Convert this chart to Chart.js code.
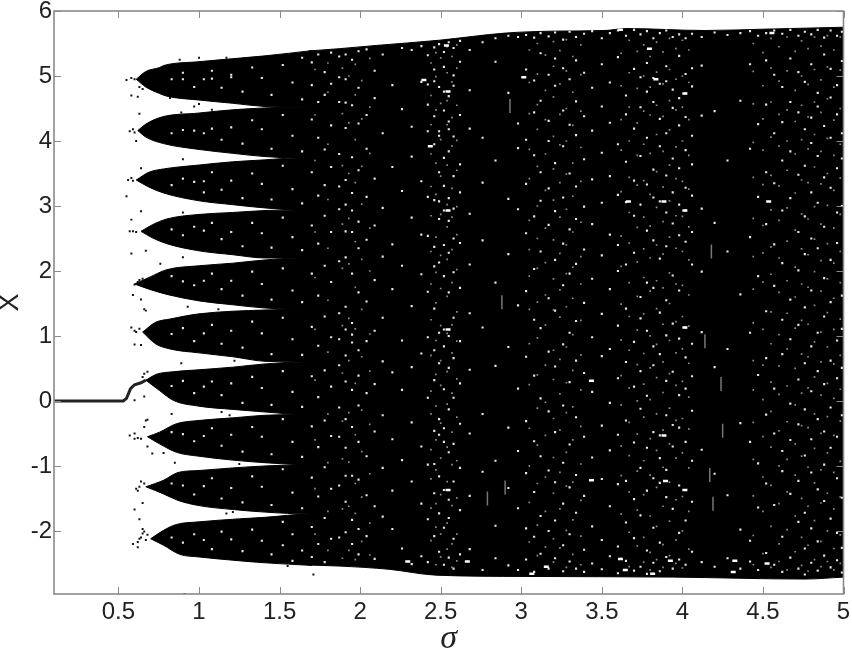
<!DOCTYPE html>
<html>
<head>
<meta charset="utf-8">
<title>Bifurcation diagram</title>
<script src="https://cdn.jsdelivr.net/npm/chart.js@4"></script>
<style>
  html, body { margin: 0; padding: 0; background: #fff; }
  canvas { display: block; filter: blur(0.45px); }
</style>
</head>
<body>
<canvas id="bif" width="852" height="651"></canvas>
<script>
const xTicks = [0.5, 1, 1.5, 2, 2.5, 3, 3.5, 4, 4.5, 5];
const yTicks = [-2, -1, 0, 1, 2, 3, 4, 5, 6];

// [sigma, X] outline of each band
const lobe1Up = [[0.61,4.95],[0.67,5.07],[0.755,5.13],[0.78,5.16],[1.0,5.22],[1.41,5.31],[1.7,5.39]];
const lobe1Lo = [[0.61,4.95],[0.67,4.83],[0.755,4.73],[0.8,4.69],[1.0,4.63],[1.21,4.58],[1.41,4.53],[1.6,4.52],[1.7,4.52]];
const lobe2Up = [[0.62,4.16],[0.67,4.26],[0.77,4.37],[1.0,4.43],[1.21,4.48],[1.6,4.52],[1.7,4.52]];
const lobe2Lo = [[0.62,4.16],[0.67,4.06],[0.78,3.96],[1.0,3.87],[1.21,3.81],[1.41,3.76],[1.61,3.74],[1.7,3.74]];
const lobe3Up = [[0.61,3.40],[0.69,3.52],[0.78,3.57],[1.0,3.63],[1.21,3.68],[1.41,3.71],[1.61,3.74],[1.7,3.74]];
const lobe3Lo = [[0.61,3.40],[0.69,3.29],[0.78,3.20],[1.0,3.08],[1.21,3.02],[1.41,2.97],[1.62,2.94],[1.7,2.94]];
const lobe4Up = [[0.64,2.61],[0.71,2.71],[0.8,2.80],[1.0,2.87],[1.21,2.90],[1.41,2.93],[1.62,2.94],[1.7,2.94]];
const lobe4Lo = [[0.64,2.61],[0.71,2.51],[0.8,2.42],[1.0,2.31],[1.21,2.25],[1.41,2.20],[1.63,2.20],[1.7,2.20]];
const lobe5Up = [[0.6,1.80],[0.69,1.90],[0.8,2.02],[1.0,2.08],[1.21,2.12],[1.41,2.17],[1.63,2.20],[1.7,2.20]];
const lobe5Lo = [[0.6,1.80],[0.69,1.72],[0.8,1.64],[1.0,1.54],[1.21,1.48],[1.41,1.43],[1.64,1.41],[1.7,1.41]];
const lobe6Up = [[0.65,1.06],[0.73,1.21],[0.82,1.26],[1.0,1.34],[1.41,1.40],[1.64,1.41],[1.7,1.41]];
const lobe6Lo = [[0.65,1.06],[0.73,0.88],[0.82,0.80],[1.0,0.74],[1.21,0.68],[1.41,0.61],[1.67,0.60],[1.7,0.60]];
const lobe7Up = [[0.67,0.32],[0.735,0.41],[0.84,0.45],[1.0,0.48],[1.21,0.52],[1.41,0.57],[1.67,0.60],[1.7,0.60]];
const lobe7Lo = [[0.67,0.32],[0.755,0.16],[0.84,0.01],[1.0,-0.08],[1.21,-0.13],[1.41,-0.17],[1.67,-0.21],[1.7,-0.21]];
const lobe8Up = [[0.68,-0.55],[0.755,-0.48],[0.86,-0.35],[1.0,-0.30],[1.21,-0.26],[1.41,-0.22],[1.67,-0.21],[1.7,-0.21]];
const lobe8Lo = [[0.68,-0.55],[0.755,-0.66],[0.86,-0.79],[1.0,-0.85],[1.21,-0.91],[1.41,-0.95],[1.68,-0.98],[1.7,-0.98]];
const lobe9Up = [[0.67,-1.32],[0.78,-1.22],[0.87,-1.10],[1.0,-1.07],[1.21,-1.03],[1.41,-1.00],[1.68,-0.98],[1.7,-0.98]];
const lobe9Lo = [[0.67,-1.32],[0.78,-1.43],[0.87,-1.53],[1.0,-1.61],[1.21,-1.67],[1.41,-1.71],[1.69,-1.74],[1.7,-1.74]];
const lobe10Up = [[0.7,-2.12],[0.78,-1.99],[0.86,-1.90],[1.0,-1.86],[1.21,-1.82],[1.41,-1.79],[1.69,-1.74],[1.7,-1.74]];
const lobe10Lo = [[0.7,-2.12],[0.78,-2.22],[0.88,-2.36],[1.0,-2.40],[1.21,-2.45],[1.41,-2.49],[1.7,-2.53]];
const bodyUp = [[1.68,5.385],[1.87,5.42],[2.1,5.47],[2.49,5.55],[2.9,5.66],[3.2,5.69],[3.52,5.70],[3.65,5.73],[4.14,5.70],[4.5,5.72],[5,5.75]];
const bodyLo = [[1.68,-2.525],[1.87,-2.54],[2.18,-2.59],[2.47,-2.68],[3.03,-2.70],[3.94,-2.71],[4.76,-2.74],[5,-2.71]];

// the fixed point before the first bifurcation
const stem = [[0.1,0],[0.53,0],[0.55,0.04],[0.575,0.19],[0.6,0.25],[0.64,0.28],[0.67,0.32]];

const strayDots = [[0.55,4.94],[0.58,4.97],[0.60,4.95],[0.65,4.80],[0.63,4.83],[0.58,4.70],[0.62,4.68],[0.82,4.66],[0.97,4.53],[1.0,4.57],[0.88,5.25],[1.0,5.28],[1.17,5.28],[0.89,4.44],[0.63,4.42],[1.08,4.48],[0.57,4.15],[0.60,4.13],[0.59,4.18],[0.61,4.0],[0.90,3.72],[0.64,3.58],[0.55,3.15],[0.56,3.40],[0.59,3.39],[0.58,3.43],[0.64,2.92],[0.58,2.79],[0.90,2.90],[0.57,2.61],[0.61,2.60],[0.59,2.61],[0.58,2.27],[0.67,2.31],[0.90,2.21],[0.76,2.11],[0.62,1.83],[0.65,1.88],[0.60,1.79],[0.63,1.86],[0.59,1.63],[0.64,1.56],[0.67,1.39],[0.66,1.41],[0.93,1.45],[1.12,1.41],[0.58,1.13],[0.63,1.11],[0.60,1.08],[0.61,1.06],[0.60,0.87],[0.64,0.86],[0.89,0.58],[1.22,0.62],[0.68,0.45],[0.66,0.42],[0.65,0.37],[0.60,0.01],[0.66,0.07],[0.83,-0.20],[1.14,-0.17],[1.19,-0.22],[0.67,-0.30],[0.68,-0.29],[0.66,-0.40],[0.57,-0.53],[0.60,-0.58],[0.62,-0.57],[0.64,-0.58],[0.60,-0.50],[0.68,-0.70],[0.71,-0.81],[0.78,-0.80],[0.85,-0.95],[1.25,-0.97],[0.63,-1.32],[0.61,-1.35],[0.66,-1.27],[0.64,-1.24],[0.62,-1.38],[0.65,-1.57],[0.60,-1.67],[0.63,-1.82],[1.17,-1.73],[1.21,-1.71],[0.65,-2.04],[0.62,-2.17],[0.59,-2.20],[0.67,-2.14],[0.65,-1.97],[0.62,-2.25],[0.64,-2.10],[0.66,-2.01],[0.63,-2.12],[0.68,-2.06],[1.55,-2.54],[1.71,-2.67],[0.91,-2.97]];

// white gaps, one sigma per list of X values
const speckSigma = [0.83,0.9,0.97,1.03,1.08,1.14,1.2,1.27,1.33,1.39,1.45,1.52,1.58,1.64,1.7,1.74,1.78,1.82,1.87,1.91,1.95,1.99,2.04,2.09,2.14,2.2,2.26,2.32,2.38,2.42,2.46,2.49,2.52,2.55,2.58,2.62,2.68,2.76,2.84,2.92,2.98,3.03,3.08,3.12,3.17,3.21,3.26,3.3,3.34,3.39,3.44,3.5,3.55,3.6,3.65,3.7,3.74,3.78,3.82,3.86,3.9,3.94,3.98,4.02,4.06,4.12,4.2,4.28,4.36,4.42,4.47,4.52,4.57,4.62,4.67,4.72,4.76,4.8,4.84,4.88,4.92,4.96,4.99];
const speckX = [
  [4.95,4.12,3.32,2.64,1.92,1.03,0.23,-0.48,-1.27,-2.10],
  [5.05,4.95,4.17,3.42,2.55,1.84,1.12,0.31,-0.51,-1.30,-2.18],
  [4.83,4.16,3.37,2.68,1.78,0.92,0.12,-0.62,-1.44,-2.05],
  [4.95,4.12,3.38,3.21,2.62,1.85,1.04,0.22,-0.54,-1.31,-2.14],
  [5.08,4.96,4.19,3.52,2.74,1.96,1.17,0.30,-0.42,-1.19,-2.28],
  [4.82,4.02,3.25,2.49,1.72,0.88,0.09,-0.69,-1.50,-2.01],
  [5.02,4.98,4.21,3.39,2.60,1.85,1.08,0.27,-0.52,-1.34,-2.13],
  [4.76,3.96,3.12,2.38,1.62,0.82,-0.03,-0.78,-1.56,-2.31],
  [5.13,4.32,3.50,2.74,1.99,1.22,0.37,-0.40,-1.16,-1.98],
  [4.97,4.18,3.34,2.58,1.80,1.04,0.20,-0.55,-1.32,-2.15],
  [4.71,3.88,3.10,2.36,1.56,0.72,-0.06,-0.82,-1.60,-2.36],
  [5.17,4.40,3.62,2.82,2.04,1.28,0.46,-0.28,-1.05,-1.86,-2.22],
  [4.90,4.08,3.26,2.52,1.70,0.95,0.14,-0.63,-1.41,-2.05,-2.46],
  [5.28,4.64,3.84,3.04,2.32,1.52,0.71,-0.09,-0.86,-1.65,-2.30],
  [5.21,4.86,4.33,3.52,2.70,1.96,1.14,0.38,-0.39,-1.18,-1.94,-2.40],
  [5.33,4.60,4.05,3.16,2.42,1.62,0.85,0.06,-0.71,-1.47,-2.20],
  [5.06,4.71,3.87,3.32,2.85,2.08,1.30,0.47,-0.30,-1.02,-1.80,-2.48],
  [5.36,4.88,4.24,3.60,2.60,1.83,0.98,0.22,-0.54,-1.35,-2.12],
  [5.30,4.98,4.60,3.80,3.30,2.95,2.15,1.35,0.95,0.55,-0.10,-0.55,-1.30,-2.10],
  [5.33,4.95,4.59,4.20,3.40,3.02,2.61,2.21,1.45,1.10,0.70,0.30,-0.28,-0.72,-1.15,-1.55,-2.02],
  [5.25,4.55,3.75,3.20,2.93,2.60,1.96,1.20,0.90,1.02,0.17,-0.40,-1.15,-1.83,-2.20],
  [5.38,4.82,4.27,3.55,2.76,2.35,1.67,0.78,0.39,-0.07,-0.63,-1.21,-1.97,-2.36],
  [5.41,4.40,3.88,3.14,2.48,1.53,0.92,0.12,-0.85,-1.45,-2.08],
  [5.08,4.66,3.42,2.70,1.86,1.08,0.26,-0.47,-1.62,-2.43],
  [5.33,4.12,2.97,2.22,1.28,0.61,-0.22,-1.03,-1.78],
  [4.86,3.60,2.41,1.72,0.44,-0.59,-1.38,-1.97],
  [5.43,4.49,3.23,2.08,0.93,0.17,-0.91,-2.27],
  [5.40,4.22,3.76,2.82,1.46,0.52,-0.33,-1.24,-2.51],
  [5.46,4.91,3.38,2.56,1.95,0.73,-0.70,-1.58,-2.39],
  [5.32,4.87,4.56,4.15,3.14,2.54,1.68,0.98,0.05,-0.98,-1.82,-2.48],
  [5.44,5.10,4.92,4.38,3.95,3.09,2.37,2.07,1.42,0.78,0.32,-0.46,-0.97,-1.42,-2.08],
  [5.49,4.83,4.15,4.08,3.52,3.07,2.80,2.13,1.05,0.58,-0.28,-0.52,-1.16,-1.73,-2.32],
  [5.37,5.14,4.76,4.47,3.74,3.31,2.93,2.40,1.92,1.10,0.84,0.18,-0.42,-0.63,-1.37,-1.95,-2.52],
  [5.52,4.69,4.30,4.18,3.84,3.12,2.77,2.28,1.67,1.00,0.51,-0.13,-0.79,-1.52,-1.80,-2.41],
  [5.43,5.01,4.85,4.07,3.46,2.96,2.50,1.98,1.28,0.66,0.05,-0.66,-1.24,-2.12,-2.58],
  [5.54,5.22,4.40,3.64,3.21,2.43,1.74,0.92,0.27,-0.35,-1.03,-1.68,-2.36],
  [5.40,4.78,4.19,2.88,2.10,1.35,0.48,-0.50,-1.46,-2.28],
  [5.52,4.05,3.36,2.47,1.13,-0.20,-1.09,-2.60],
  [5.58,5.22,3.70,1.82,0.54,-0.92,-1.92,-2.42],
  [5.62,4.74,3.11,2.26,0.83,-0.41,-1.34,-2.53],
  [5.60,4.27,3.89,2.95,1.47,0.19,-0.77,-1.65,-2.60],
  [5.63,5.10,4.02,3.34,2.58,1.69,0.68,-0.31,-1.11,-1.96,-2.44],
  [5.59,4.93,4.44,3.78,2.84,2.03,1.25,0.39,-0.62,-1.40,-2.09,-2.63],
  [5.66,5.35,4.62,3.52,3.08,2.30,1.12,0.04,-0.85,-1.77,-2.35],
  [5.61,5.02,4.31,4.00,3.27,2.71,1.58,0.76,-0.16,-1.07,-2.00,-2.58],
  [5.67,5.27,4.85,3.66,2.92,2.17,1.39,0.53,-0.48,-1.25,-1.84,-2.42],
  [5.56,5.12,4.47,3.92,3.13,2.42,1.78,0.87,-0.07,-0.95,-1.58,-2.22,-2.62],
  [5.68,4.95,4.25,3.50,2.64,1.96,1.05,0.29,-0.67,-1.33,-2.05,-2.47],
  [5.60,5.24,4.61,4.09,3.30,2.80,2.11,1.23,0.62,-0.25,-1.14,-1.72,-2.58],
  [5.65,5.05,4.38,3.72,2.99,2.33,1.51,0.43,-0.55,-1.46,-2.29,-2.63],
  [5.69,4.82,4.16,3.41,2.72,1.88,0.98,0.14,-0.87,-1.93,-2.50],
  [5.58,5.18,4.53,3.82,3.05,2.24,1.34,0.69,-0.38,-1.20,-2.14,-2.59],
  [5.66,4.90,4.28,3.46,2.56,1.72,0.80,-0.03,-0.76,-1.62,-2.39],
  [5.70,5.29,3.95,3.17,2.40,2.00,1.16,0.35,-0.52,-1.28,-2.24,-2.65],
  [5.62,4.70,4.41,3.68,3.06,2.10,1.42,0.60,-0.30,-1.23,-1.87,-2.46],
  [5.71,5.11,4.19,3.39,2.85,2.28,0.91,0.22,-0.64,-1.51,-2.11,-2.61],
  [5.64,4.98,4.52,3.77,3.02,1.60,1.27,0.46,-0.12,-1.03,-1.76,-2.55],
  [5.69,5.20,4.76,4.05,3.33,2.62,1.82,1.08,0.08,-0.72,-1.38,-2.30,-2.66],
  [5.58,4.97,4.60,3.56,3.13,2.47,1.74,0.84,0.55,-0.48,-1.19,-1.95,-2.49],
  [5.66,4.88,4.34,3.92,3.07,2.19,1.36,0.72,-0.53,-0.88,-1.26,-2.18,-2.62],
  [5.70,5.15,4.92,4.12,3.47,2.90,2.38,1.55,1.01,0.31,-0.22,-1.06,-1.48,-2.40],
  [5.60,4.79,4.51,3.73,3.21,2.73,1.93,1.19,0.45,-0.37,-0.70,-1.66,-2.58],
  [5.64,5.31,4.66,4.24,3.58,3.02,2.55,1.70,0.96,0.09,-0.41,-1.30,-2.03,-2.44],
  [5.58,5.03,4.73,4.37,3.86,3.28,2.93,2.45,1.13,0.67,0.19,-0.63,-1.37,-1.84,-2.52],
  [5.65,5.12,4.84,4.08,3.64,3.16,2.60,2.10,0.88,0.38,-0.15,-0.92,-1.55,-2.32],
  [5.60,5.16,4.39,2.96,1.99,1.06,-0.75,-2.48],
  [5.67,4.46,2.74,0.52,-1.12,-2.55],
  [5.63,3.70,2.30,0.80,-1.45,-2.42],
  [5.66,4.62,1.64,-0.34,-1.98,-2.58],
  [5.69,5.18,3.88,2.52,1.05,-0.63,-2.15,-2.47],
  [5.62,4.26,3.14,1.92,0.40,-0.96,-1.64,-2.60],
  [5.66,5.24,4.56,3.52,2.72,1.38,0.66,-0.21,-1.27,-2.34],
  [5.70,5.02,4.12,3.35,2.41,1.77,0.19,-0.50,-1.60,-2.52],
  [5.65,4.83,4.29,3.70,2.93,2.12,1.25,0.72,-0.77,-1.08,-2.09,-2.63],
  [5.71,5.27,4.60,3.84,3.12,1.56,0.95,-0.04,-0.60,-1.43,-2.41],
  [5.62,5.06,4.44,3.48,2.60,2.01,1.17,0.33,-0.36,-1.23,-1.86,-2.58],
  [5.68,4.91,4.18,3.62,2.84,2.26,1.44,0.58,-0.13,-0.84,-1.72,-2.27,-2.67],
  [5.64,5.18,4.36,3.97,3.21,2.50,1.70,0.84,0.15,-0.59,-1.10,-1.96,-2.49],
  [5.71,4.74,4.53,3.77,3.05,2.35,1.05,0.46,-0.28,-1.36,-2.16,-2.61],
  [5.59,5.33,4.23,3.44,2.68,1.89,1.30,0.26,-0.47,-0.98,-1.54,-2.38],
  [5.70,5.11,4.67,4.05,3.28,2.17,1.52,0.62,-0.10,-0.72,-1.81,-2.56],
  [5.62,4.86,4.41,3.58,2.90,2.43,0.93,0.35,-0.55,-1.19,-2.03,-2.45],
  [5.68,5.23,4.12,3.73,3.00,1.62,1.11,0.51,-0.22,-1.49,-2.26,-2.64],
  [5.72,4.97,4.58,3.87,2.77,2.09,1.37,0.07,-0.83,-1.33,-1.90,-2.52]
];

// dimmer dots in the busy columns
const faintSigma = [1.72,1.8,1.89,1.93,1.97,2.01,2.06,2.44,2.47,2.5,2.54,2.57,2.6,3.05,3.1,3.15,3.2,3.24,3.28,3.32,3.37,3.62,3.67,3.72,3.76,3.8,3.84,3.88,3.92,3.96,4.0,4.04,4.44,4.5,4.55,4.6,4.65,4.7,4.74,4.78,4.82,4.86,4.9,4.94,4.98];
const faintX = [
  [5.1,4.4,3.7,2.6,1.9,1.1,0.32,-0.6,-1.35,-2.05],
  [5.2,4.75,3.95,3.1,2.35,1.55,0.75,-0.2,-0.95,-1.7,-2.3],
  [5.12,4.42,3.62,2.72,2.04,1.16,0.43,-0.31,-0.89,-1.66,-2.42],
  [5.0,4.28,3.5,2.81,2.11,1.27,0.62,-0.18,-0.94,-1.62,-2.3],
  [5.18,4.71,4.02,3.36,2.45,1.75,1.11,0.27,-0.52,-1.27,-1.73,-2.44],
  [4.93,4.34,3.61,3.03,2.18,1.41,0.68,-0.14,-0.78,-1.48,-2.16],
  [5.27,4.52,3.81,2.66,2.0,1.03,0.46,-0.36,-1.12,-1.88,-2.37],
  [5.2,4.7,4.25,3.8,3.3,2.85,2.3,1.8,1.25,0.7,0.15,-0.2,-0.75,-1.2,-1.65,-2.15],
  [5.36,4.99,4.48,3.66,3.18,2.52,1.98,1.51,0.93,0.41,-0.08,-0.6,-1.06,-1.58,-1.94,-2.52],
  [5.28,4.58,4.02,3.46,2.87,2.24,1.73,1.16,0.62,0.24,-0.34,-0.88,-1.44,-2.05,-2.4],
  [5.45,5.05,4.62,4.25,3.63,3.02,2.68,2.18,1.61,1.04,0.45,-0.05,-0.71,-1.24,-1.88,-2.28],
  [5.3,4.91,4.36,3.92,3.27,2.83,2.33,1.82,1.17,0.74,0.12,-0.48,-0.98,-1.61,-2.2,-2.56],
  [5.48,5.12,4.55,4.01,3.55,2.99,2.56,2.02,1.37,0.92,0.34,-0.25,-0.92,-1.49,-2.05,-2.46],
  [5.4,4.9,4.42,3.87,3.42,2.78,2.33,1.92,1.41,0.88,0.25,-0.42,-1.0,-1.56,-2.17],
  [5.5,5.03,4.56,4.18,3.61,3.0,2.5,2.04,1.52,0.97,0.4,-0.11,-0.68,-1.27,-1.91,-2.38],
  [5.32,4.78,4.33,3.8,3.24,2.66,2.13,1.63,1.17,0.55,-0.02,-0.53,-1.17,-1.7,-2.25,-2.55],
  [5.53,5.15,4.68,4.07,3.57,3.09,2.48,1.88,1.4,0.78,0.33,-0.27,-0.87,-1.42,-2.12,-2.48],
  [5.39,4.88,4.41,3.94,3.36,2.83,2.27,1.71,1.29,0.64,0.11,-0.45,-1.1,-1.66,-2.26],
  [5.56,5.08,4.5,4.0,3.49,2.95,2.4,1.96,1.45,0.83,0.28,-0.18,-0.79,-1.31,-1.99,-2.56],
  [5.3,4.75,4.24,3.66,3.15,2.6,2.06,1.58,1.02,0.47,-0.09,-0.6,-1.25,-1.83,-2.36],
  [5.48,5.02,4.46,3.9,3.38,2.75,2.22,1.8,1.24,0.71,0.17,-0.39,-0.97,-1.53,-2.08,-2.52],
  [5.35,4.85,4.33,3.86,3.22,2.54,2.07,1.49,0.94,0.39,-0.06,-0.69,-1.15,-1.74,-2.42],
  [5.55,5.05,4.52,4.0,3.44,2.9,2.43,1.82,1.3,0.78,0.2,-0.33,-0.84,-1.4,-2.02,-2.55],
  [5.38,4.81,4.28,3.78,3.32,2.67,2.14,1.61,1.09,0.56,0.0,-0.51,-1.08,-1.68,-2.23],
  [5.48,5.0,4.46,3.95,3.39,2.83,2.34,1.9,1.34,0.73,0.26,-0.25,-0.92,-1.44,-2.1,-2.48],
  [5.3,4.83,4.4,3.81,3.18,2.69,2.2,1.69,1.0,0.51,0.02,-0.58,-1.14,-1.77,-2.33,-2.6],
  [5.52,5.06,4.55,4.1,3.53,2.98,2.4,1.85,1.42,0.87,0.36,-0.2,-0.76,-1.33,-1.93,-2.44],
  [5.37,4.88,4.38,3.84,3.29,2.76,2.26,1.74,1.18,0.6,0.13,-0.45,-1.02,-1.62,-2.21,-2.56],
  [5.58,5.1,4.62,4.17,3.63,3.08,2.52,1.97,1.5,0.93,0.42,-0.11,-0.66,-1.25,-1.85,-2.38],
  [5.42,4.95,4.48,3.91,3.42,2.85,2.35,1.8,1.22,0.74,0.24,-0.3,-0.88,-1.52,-2.14,-2.5],
  [5.55,5.0,4.52,4.0,3.38,2.84,2.3,1.78,1.3,0.8,0.3,-0.27,-0.8,-1.47,-2.0,-2.57],
  [5.4,4.9,4.33,3.78,3.26,2.68,2.17,1.63,1.15,0.58,0.06,-0.43,-1.03,-1.7,-2.28],
  [5.5,5.07,4.57,3.98,3.44,2.81,2.22,1.72,1.2,0.62,0.17,-0.33,-0.9,-1.46,-2.07,-2.52],
  [5.36,4.85,4.34,3.86,3.33,2.7,2.28,1.83,1.1,0.55,0.02,-0.55,-1.17,-1.7,-2.35],
  [5.58,5.12,4.6,4.06,3.47,2.94,2.37,1.95,1.37,0.88,0.29,-0.16,-0.71,-1.3,-1.93,-2.56],
  [5.45,4.92,4.41,3.92,3.31,2.78,2.2,1.67,1.02,0.54,0.1,-0.46,-1.0,-1.58,-2.2,-2.47],
  [5.6,5.08,4.48,4.0,3.55,2.97,2.46,1.85,1.35,0.8,0.23,-0.32,-0.9,-1.4,-1.98,-2.6],
  [5.38,4.78,4.3,3.8,3.2,2.63,2.06,1.6,1.12,0.5,-0.06,-0.66,-1.14,-1.77,-2.32],
  [5.54,5.0,4.55,4.02,3.4,2.88,2.34,1.8,1.24,0.72,0.12,-0.38,-0.85,-1.5,-2.1,-2.53],
  [5.42,4.87,4.37,3.88,3.36,2.8,2.25,1.75,1.18,0.68,0.2,-0.41,-1.02,-1.62,-2.22,-2.62],
  [5.6,5.1,4.6,4.1,3.6,2.99,2.49,1.99,1.47,0.91,0.37,-0.2,-0.73,-1.26,-1.84,-2.44],
  [5.46,4.94,4.44,3.84,3.34,2.72,2.16,1.69,1.06,0.6,0.09,-0.5,-1.06,-1.57,-2.16,-2.55],
  [5.62,5.14,4.65,4.04,3.5,3.01,2.42,1.88,1.36,0.83,0.27,-0.24,-0.8,-1.42,-2.0,-2.47],
  [5.4,4.83,4.32,3.78,3.24,2.66,2.12,1.58,1.1,0.57,0.04,-0.53,-1.1,-1.66,-2.27,-2.6],
  [5.6,5.09,4.5,3.95,3.43,2.87,2.3,1.82,1.26,0.7,0.18,-0.31,-0.93,-1.48,-2.06,-2.5]
];

// brighter blobs and dashes
const brightSpecks = [[2.28,-2.47],[2.65,-2.47],[3.14,-2.55],[3.05,-2.66],[3.60,-2.43],[3.63,-2.60],[3.80,-2.66],[3.91,-2.46],[4.31,-2.46],[4.30,-2.63],[4.51,-2.50],[2.53,4.76],[2.53,2.93],[2.53,1.10],[2.53,-1.37],[3.82,4.95],[4.0,4.73],[4.0,2.93],[3.87,3.07],[4.54,5.66],[3.6,5.71],[4.0,1.13],[4.0,-1.37],[3.87,-0.53],[3.88,-1.23],[2.52,5.47],[3.65,3.07],[4.52,3.07],[3.0,4.98],[2.42,3.92],[2.38,4.94],[3.42,-1.22],[3.42,0.31],[3.78,5.42]];

const grayMarks = [[2.93,4.54],[2.88,1.52],[2.90,-1.33],[2.79,-1.50],[4.14,0.92],[4.24,0.26],[4.25,-0.46],[4.17,-1.14],[4.19,-1.58],[4.18,2.3]];

const toPts = pairs => pairs.map(p => ({ x: p[0], y: p[1] }));

function band(up, lo) {
  return [
    { data: toPts(up), borderColor: '#000', borderWidth: 1, backgroundColor: '#000', fill: '+1', pointRadius: 0, cubicInterpolationMode: 'monotone', order: 3 },
    { data: toPts(lo), borderColor: '#000', borderWidth: 1, pointRadius: 0, fill: false, cubicInterpolationMode: 'monotone', order: 3 }
  ];
}

function columns(sigmas, lists) {
  const pts = [];
  sigmas.forEach((s, i) => lists[i].forEach(v => pts.push({ x: s, y: v })));
  return pts;
}

const datasets = [
  ...band(lobe1Up, lobe1Lo), ...band(lobe2Up, lobe2Lo), ...band(lobe3Up, lobe3Lo),
  ...band(lobe4Up, lobe4Lo), ...band(lobe5Up, lobe5Lo), ...band(lobe6Up, lobe6Lo),
  ...band(lobe7Up, lobe7Lo), ...band(lobe8Up, lobe8Lo), ...band(lobe9Up, lobe9Lo),
  ...band(lobe10Up, lobe10Lo), ...band(bodyUp, bodyLo),
  { data: toPts(stem), borderColor: '#222', borderWidth: 3, pointRadius: 0, fill: false, order: 2 },
  { data: toPts(strayDots), showLine: false, pointStyle: 'rect', pointRadius: 1.4, borderWidth: 0, backgroundColor: '#111', order: 2 },
  { data: columns(faintSigma, faintX), showLine: false, pointStyle: 'rect', pointRadius: 1.2, borderWidth: 0, backgroundColor: '#8c8c8c', order: 1 },
  { data: columns(speckSigma, speckX), showLine: false, pointStyle: 'rect', pointRadius: 1.5, borderWidth: 0, backgroundColor: '#e8e8e8', order: 1 },
  { data: toPts(brightSpecks), showLine: false, pointStyle: 'dash', pointRadius: 5, borderWidth: 2.5, borderColor: '#fff', order: 0 },
  { data: toPts(grayMarks), showLine: false, pointStyle: 'line', rotation: 90, pointRadius: 7, borderWidth: 1.5, borderColor: '#777', order: 0 }
];

// inward ticks and the box, as in the original figure
const boxPlugin = {
  id: 'box',
  afterDraw(chart) {
    const { ctx, chartArea: a, scales } = chart;
    ctx.save();
    ctx.strokeStyle = '#8a8a8a';
    ctx.lineWidth = 1;
    ctx.beginPath();
    xTicks.forEach(v => {
      const px = Math.round(scales.x.getPixelForValue(v)) + 0.5;
      ctx.moveTo(px, a.bottom); ctx.lineTo(px, a.bottom - 7);
      ctx.moveTo(px, a.top); ctx.lineTo(px, a.top + 7);
    });
    yTicks.forEach(v => {
      const py = Math.round(scales.y.getPixelForValue(v)) + 0.5;
      ctx.moveTo(a.left, py); ctx.lineTo(a.left + 7, py);
      ctx.moveTo(a.right, py); ctx.lineTo(a.right - 7, py);
    });
    ctx.stroke();
    ctx.lineWidth = 1.6;
    ctx.strokeRect(a.left, a.top, a.right - a.left, a.bottom - a.top);
    ctx.restore();
  }
};

new Chart(document.getElementById('bif').getContext('2d'), {
  type: 'line',
  data: { datasets },
  plugins: [boxPlugin],
  options: {
    responsive: false,
    animation: false,
    events: [],
    layout: { padding: { top: 11, right: 8, left: 0, bottom: 0 } },
    plugins: { legend: { display: false }, tooltip: { enabled: false }, title: { display: false } },
    scales: {
      x: {
        type: 'linear',
        min: 0.1,
        max: 5,
        afterBuildTicks: s => { s.ticks = xTicks.map(v => ({ value: v })); },
        afterFit: s => { s.height = 57; s.paddingLeft = 0; s.paddingRight = 0; },
        grid: { display: false, drawTicks: false },
        border: { display: false },
        ticks: { color: '#222', autoSkip: false, maxRotation: 0, padding: 4, font: { family: 'Liberation Sans', size: 24 }, callback: v => String(v) },
        title: { display: true, text: 'σ', color: '#222', padding: { top: 0, bottom: 0 }, font: { family: 'Liberation Serif', style: 'italic', size: 34, lineHeight: 0.7 } }
      },
      y: {
        min: -2.97,
        max: 6,
        afterBuildTicks: s => { s.ticks = yTicks.map(v => ({ value: v })); },
        afterFit: s => { s.width = 54; s.paddingTop = 0; s.paddingBottom = 0; },
        grid: { display: false, drawTicks: false },
        border: { display: false },
        ticks: { color: '#222', autoSkip: false, padding: 2, font: { family: 'Liberation Sans', size: 24 }, callback: v => String(v) },
        title: { display: true, text: 'X', color: '#222', padding: { top: 0, bottom: 0 }, font: { family: 'Liberation Sans', size: 27, lineHeight: 0.75 } }
      }
    }
  }
});
</script>
</body>
</html>
